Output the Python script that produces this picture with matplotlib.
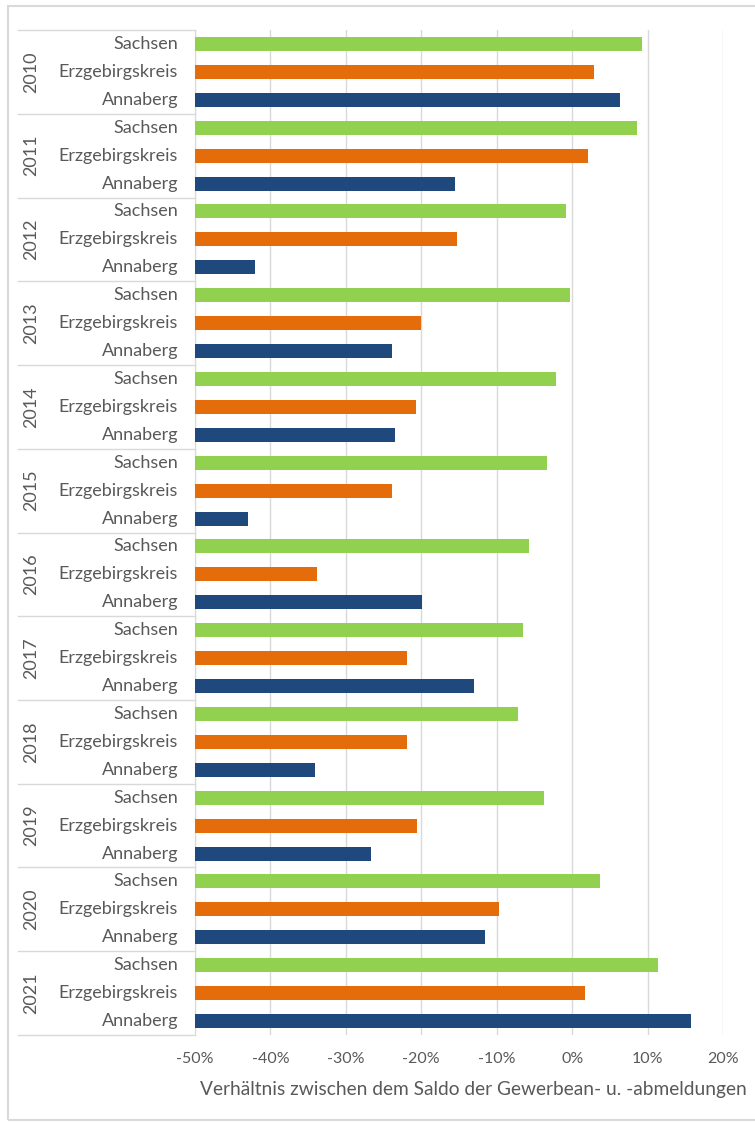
import matplotlib.pyplot as plt
from matplotlib.ticker import FuncFormatter

plt.rcParams['font.family'] = ['Lato', 'DejaVu Sans']

years = ['2010', '2011', '2012', '2013', '2014', '2015',
         '2016', '2017', '2018', '2019', '2020', '2021']
regions = ['Sachsen', 'Erzgebirgskreis', 'Annaberg']

# values in percent
sachsen = [9.3, 8.6, -0.8, -0.3, -2.1, -3.3, -5.7, -6.5, -7.2, -3.7, 3.7, 11.4]
erzgebirge = [2.9, 2.1, -15.3, -20.0, -20.7, -23.9, -33.8, -21.9, -21.9, -20.6, -9.7, 1.7]
annaberg = [6.4, -15.5, -42.0, -23.9, -23.5, -43.0, -19.9, -13.0, -34.1, -26.7, -11.5, 15.8]

colors = ['#92D050', '#E46C0A', '#1F497D']
grey = '#595959'
xmin, xmax = -50, 20

fig = plt.figure(figsize=(7.55, 11.22), dpi=100)
W, H = 755, 1122
ax = fig.add_axes([195 / W, 1 - 1035 / H, (723 - 195) / W, (1035 - 30) / H])

series = [sachsen, erzgebirge, annaberg]
n = len(years)
for j, vals in enumerate(series):
    ys = [3 * i + j + 0.5 for i in range(n)]
    ax.barh(ys, [v - xmin for v in vals], left=xmin, height=0.5,
            color=colors[j], zorder=3)

ax.set_xlim(xmin, xmax)
ax.set_ylim(3 * n, 0)
ax.set_xticks(range(xmin, xmax + 1, 10))
ax.xaxis.set_major_formatter(FuncFormatter(lambda v, p: f'{int(v)}%'))
ax.tick_params(axis='x', length=0, pad=12, labelsize=11.5, labelcolor=grey)
ax.grid(axis='x', color='#D9D9D9', linewidth=1, zorder=0)
ax.set_yticks([])
for s in ['top', 'right', 'bottom']:
    ax.spines[s].set_visible(False)
ax.spines['left'].set_color('#D9D9D9')

# category labels
tr = ax.get_yaxis_transform()
for i, yr in enumerate(years):
    for j, reg in enumerate(regions):
        ax.text(-17 / (723 - 195), 3 * i + j + 0.5, reg, transform=tr, ha='right',
                va='center', fontsize=13, color=grey)
    ax.text(-(195 - 31) / (723 - 195), 3 * i + 1.5, yr, transform=tr,
            rotation=90, ha='center', va='center', fontsize=13, color=grey)
for k in range(n + 1):
    ax.plot([-(195 - 18) / (723 - 195), 0], [3 * k, 3 * k], transform=tr,
            color='#D9D9D9', linewidth=1, clip_on=False)

fig.text(200 / W, 1 - 1090 / H,
         'Verhältnis zwischen dem Saldo der Gewerbean- u. -abmeldungen',
         fontsize=13.8, color=grey, va='center', ha='left')

# chart border
fig.add_artist(plt.Rectangle((8 / W, 1 - 1120 / H), 1.2, (1120 - 6) / H,
                             transform=fig.transFigure, fill=False,
                             edgecolor='#D9D9D9', linewidth=1.5))

fig.savefig('out.png', dpi=100)
